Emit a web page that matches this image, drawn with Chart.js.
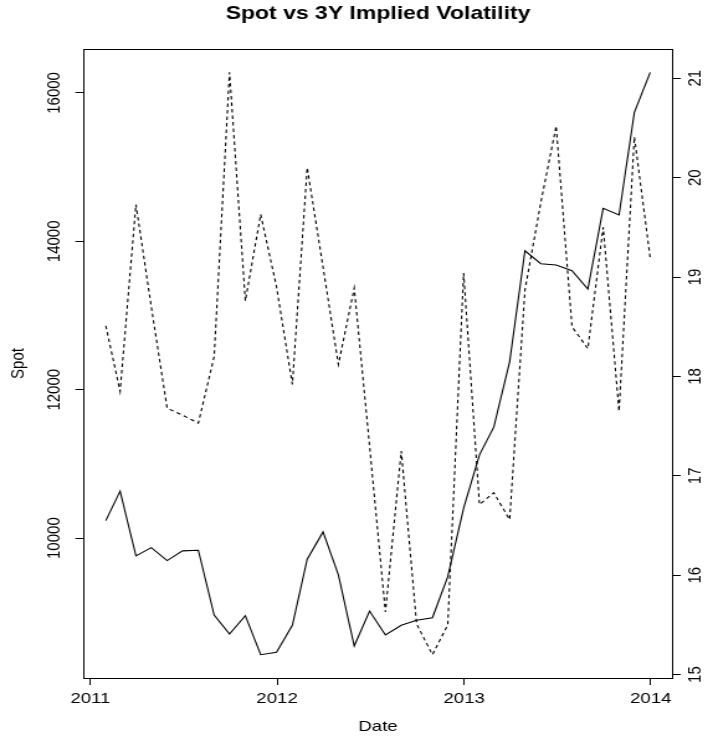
<!DOCTYPE html>
<html>
<head>
<meta charset="utf-8">
<title>Spot vs 3Y Implied Volatility</title>
<script src="https://cdn.jsdelivr.net/npm/chart.js@4.4.1/dist/chart.umd.min.js"></script>
<style>
  html, body { margin: 0; padding: 0; background: #ffffff; }
</style>
</head>
<body>
<!-- the bitmap is drawn narrower and widened by CSS, like a resized plot image -->
<canvas id="chart" width="570" height="736" style="display:block;width:708px;height:736px;"></canvas>
<script>
// Month-end observation dates
const dates = [
  '2011-01-31', '2011-02-28', '2011-03-31', '2011-04-30', '2011-05-31', '2011-06-30',
  '2011-07-31', '2011-08-31', '2011-09-30', '2011-10-31', '2011-11-30', '2011-12-31',
  '2012-01-31', '2012-02-29', '2012-03-31', '2012-04-30', '2012-05-31', '2012-06-30',
  '2012-07-31', '2012-08-31', '2012-09-30', '2012-10-31', '2012-11-30', '2012-12-31',
  '2013-01-31', '2013-02-28', '2013-03-31', '2013-04-30', '2013-05-31', '2013-06-30',
  '2013-07-31', '2013-08-31', '2013-09-30', '2013-10-31', '2013-11-30', '2013-12-31'
];

// Spot level (left axis)
const spot = [
  10236, 10633, 9760, 9872, 9697, 9828, 9837, 8964, 8708, 8955, 8429, 8461,
  8825, 9716, 10084, 9504, 8546, 9018, 8695, 8825, 8893, 8928, 9481, 10403,
  11122, 11496, 12376, 13873, 13698, 13680, 13604, 13357, 14444, 14355, 15738, 16278
];

// 3Y implied volatility (right axis)
const impliedVol3Y = [
  18.51, 17.85, 19.73, 18.70, 17.68, 17.61, 17.53, 18.20, 21.06, 18.76, 19.63, 18.90,
  17.92, 20.10, 19.10, 18.12, 18.89, 17.30, 15.63, 17.25, 15.51, 15.20, 15.50, 19.04,
  16.71, 16.83, 16.56, 18.87, 19.75, 20.52, 18.50, 18.28, 19.50, 17.65, 20.41, 19.19
];

// Axis tick labels
const yearTicks = ['2011', '2012', '2013', '2014'];
const spotTicks = [10000, 12000, 14000, 16000];
const volTicks = [15, 16, 17, 18, 19, 20, 21];

const FONT = "'Liberation Sans', Arial, Helvetica, sans-serif";
const DAY = 86400000;

function toDay(s) {
  const [y, m, d] = s.split('-').map(Number);
  return Date.UTC(y, m - 1, d) / DAY;
}

// data range widened by 4% on each side
function paddedRange(values) {
  const lo = Math.min(...values);
  const hi = Math.max(...values);
  const r = hi - lo;
  return { min: lo - 0.04 * r, max: hi + 0.04 * r };
}

const xDays = dates.map(toDay);
const xRange = paddedRange(xDays);
const spotRange = paddedRange(spot);
const volRange = paddedRange(impliedVol3Y);

const spotPoints = xDays.map((x, i) => ({ x: x, y: spot[i] }));
const volPoints = xDays.map((x, i) => ({ x: x, y: impliedVol3Y[i] }));

// Plot frame: left/right/bottom edges come from the axes, this adds the top edge
const frameTop = {
  id: 'frameTop',
  afterDraw(chart) {
    const { ctx, chartArea: a } = chart;
    const y = Math.round(a.top) + 0.5;
    ctx.save();
    ctx.strokeStyle = '#000000';
    ctx.lineWidth = 1;
    ctx.beginPath();
    ctx.moveTo(a.left, y);
    ctx.lineTo(a.right, y);
    ctx.stroke();
    ctx.restore();
  }
};

Chart.defaults.font.family = FONT;
Chart.defaults.color = '#000000';

const axisGrid = {
  display: true,
  drawOnChartArea: false,
  drawTicks: true,
  tickLength: 7,
  color: '#000000',
  tickColor: '#000000',
  lineWidth: 1
};
const axisBorder = { display: true, color: '#000000', width: 1 };

new Chart(document.getElementById('chart'), {
  type: 'line',
  data: {
    datasets: [
      {
        label: 'Spot',
        data: spotPoints,
        yAxisID: 'y',
        borderColor: '#000000',
        borderWidth: 1.1,
        pointRadius: 0,
        tension: 0,
        fill: false
      },
      {
        label: '3Y Implied Volatility',
        data: volPoints,
        yAxisID: 'y2',
        borderColor: '#000000',
        borderWidth: 1.1,
        borderDash: [3.5, 3],
        pointRadius: 0,
        tension: 0,
        fill: false
      }
    ]
  },
  options: {
    responsive: false,
    animation: false,
    devicePixelRatio: 1,
    layout: { padding: 0 },
    plugins: {
      legend: { display: false },
      tooltip: { enabled: false },
      title: {
        display: true,
        text: 'Spot vs 3Y Implied Volatility',
        fullSize: false,
        color: '#000000',
        font: { family: FONT, size: 18.5, weight: 'bold', lineHeight: 1.2 },
        padding: { top: 3, bottom: 23.8 }
      }
    },
    scales: {
      x: {
        type: 'linear',
        position: 'bottom',
        min: xRange.min,
        max: xRange.max,
        grid: axisGrid,
        border: axisBorder,
        afterBuildTicks(scale) {
          scale.ticks = yearTicks.map(y => ({ value: Date.UTC(Number(y), 0, 1) / DAY }));
        },
        afterFit(scale) { scale.height = 58; },
        ticks: {
          font: { size: 15, lineHeight: 1.2 },
          color: '#000000',
          padding: 5,
          maxRotation: 0,
          minRotation: 0,
          autoSkip: false,
          callback(value) {
            return String(new Date(value * DAY).getUTCFullYear());
          }
        },
        title: {
          display: true,
          text: 'Date',
          color: '#000000',
          font: { size: 15, lineHeight: 1.2 },
          padding: { top: 0, bottom: 0 }
        }
      },
      y: {
        type: 'linear',
        position: 'left',
        min: spotRange.min,
        max: spotRange.max,
        grid: axisGrid,
        border: axisBorder,
        afterBuildTicks(scale) {
          scale.ticks = spotTicks.map(v => ({ value: v }));
        },
        afterFit(scale) { scale.width = 67.63; },
        ticks: {
          font: { size: 15, lineHeight: 1.2 },
          color: '#000000',
          minRotation: 90,
          maxRotation: 90,
          crossAlign: 'center',
          padding: -4.1,
          autoSkip: false,
          callback(value) { return String(value); }
        },
        title: {
          display: true,
          text: 'Spot',
          color: '#000000',
          font: { size: 15, lineHeight: 1.2 },
          padding: { top: 6.3, bottom: 0 }
        }
      },
      y2: {
        type: 'linear',
        position: 'right',
        min: volRange.min,
        max: volRange.max,
        grid: axisGrid,
        border: axisBorder,
        afterBuildTicks(scale) {
          scale.ticks = volTicks.map(v => ({ value: v }));
        },
        afterFit(scale) { scale.width = 29.0; },
        ticks: {
          font: { size: 15, lineHeight: 1.2 },
          color: '#000000',
          minRotation: 90,
          maxRotation: 90,
          crossAlign: 'center',
          padding: 3.5,
          autoSkip: false,
          callback(value) { return String(value); }
        }
      }
    }
  },
  plugins: [frameTop]
});
</script>
</body>
</html>
